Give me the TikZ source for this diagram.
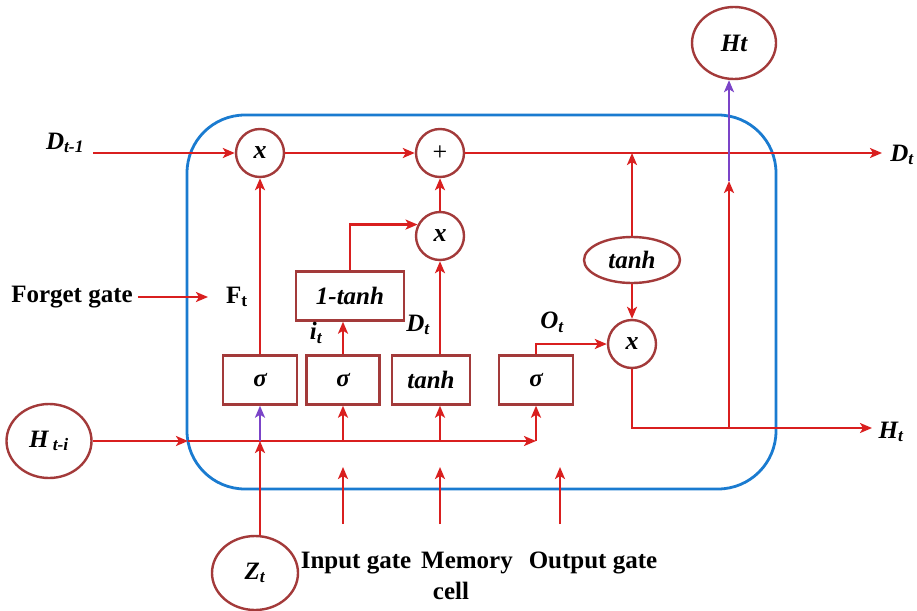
\documentclass[tikz,border=0pt]{standalone}
\usepackage{fontspec}
\setmainfont{Liberation Serif}
\usetikzlibrary{arrows.meta,shapes.geometric,calc}
\definecolor{arrred}{HTML}{D91F1F}
\definecolor{nodered}{HTML}{A33A3A}
\definecolor{cellblue}{HTML}{1A7BD0}
\definecolor{arrpurple}{HTML}{7B44C8}
\begin{document}
\begin{tikzpicture}[x=1pt,y=-1pt,
  lbl/.style={font=\fontsize{25}{30}\selectfont\bfseries\itshape, inner sep=0pt},
  txt/.style={font=\fontsize{25}{30}\selectfont\bfseries, inner sep=0pt},
  circ/.style={circle, draw=nodered, line width=2.4pt, minimum size=48pt, inner sep=0pt, fill=white, font=\fontsize{26}{30}\selectfont\bfseries\itshape},
  ell/.style={ellipse, draw=nodered, line width=2.4pt, inner sep=0pt, fill=white, font=\fontsize{25}{30}\selectfont\bfseries\itshape},
  gbox/.style={rectangle, draw=nodered, line width=2.4pt, minimum height=49pt, inner sep=0pt, fill=white, font=\fontsize{25}{30}\selectfont\bfseries\itshape},
  arr/.style={draw=arrred, line width=2.3pt, -{Stealth[length=12pt,width=10pt,inset=3pt]}},
  parr/.style={draw=arrpurple, line width=2.3pt, -{Stealth[length=12pt,width=10pt,inset=3pt]}},
  cell/.style={draw=cellblue, line width=2.8pt, rounded corners=58pt}
]
\useasboundingbox (0,0) rectangle (917,610);

% cell outline
\draw[cell] (187,115) rectangle (776,489);

% operator circles
\node[circ] (m1) at (260,153) {x};
\node[circ, font=\fontsize{26}{30}\selectfont] (plus) at (440,153) {+};
\node[circ] (m2) at (440,236) {x};
\node[circ] (m3) at (632,344) {x};

% ellipses
\node[ell, minimum width=96pt, minimum height=46pt] (tanhE) at (632,260) {tanh};
\node[ell, minimum width=84pt, minimum height=72pt] (HtE) at (734,43) {Ht};
\node[ell, minimum width=85pt, minimum height=74pt] (Hti) at (49,441) {H\,\textsubscript{t-i}};
\node[ell, minimum width=86pt, minimum height=74pt] (Zt) at (255,573) {Z\textsubscript{t}};

% gate boxes
\node[gbox, minimum width=74pt] (b1) at (260,380) {σ};
\node[gbox, minimum width=73pt] (b2) at (343,380) {σ};
\node[gbox, minimum width=78pt] (b3) at (431,380) {tanh};
\node[gbox, minimum width=74pt] (b4) at (536,380) {σ};
\node[gbox, minimum width=108pt] (b5) at (350,296) {1-tanh};

% labels
\node[lbl] (ldtm) at (65,143) {D\textsubscript{t-1}};
\node[lbl] (ldt) at (902,155) {D\textsubscript{t}};
\node[lbl] (lht) at (891,432) {H\textsubscript{t}};
\node[txt] (lfg) at (72,297) {Forget gate};
\node[txt] (lft) at (237,297) {F\textsubscript{t}};
\node[lbl] (lit) at (316,333) {i\textsubscript{t}};
\node[lbl] (ldd) at (418,325) {D\textsubscript{t}};
\node[lbl] (lot) at (552,322) {O\textsubscript{t}};
\node[txt] (lin) at (356,563) {Input gate};
\node[txt] (lmem) at (467,563) {Memory};
\node[txt] (lcell) at (451,591) {cell};
\node[txt] (lout) at (593,563) {Output gate};

% coordinates
\coordinate (dstart) at (93,153);
\coordinate (dend) at (882,153);
\coordinate (hend) at (872,428);
\coordinate (hmid) at (188,441);
\coordinate (hcorner) at (536,441);
\coordinate (zcross) at (260,441);
\coordinate (htap) at (729,428);
\coordinate (htarr) at (729,181);
\coordinate (u1s) at (343,524);
\coordinate (u1e) at (343,467);
\coordinate (u2s) at (440,524);
\coordinate (u2e) at (440,467);
\coordinate (u3s) at (560,524);
\coordinate (u3e) at (560,467);
\coordinate (fgend) at (208,297);

% top cell-state line
\draw[arr] (dstart) -- (m1.west);
\draw[arr] (m1.east) -- (plus.west);
\draw[arr] (plus.east) -- (dend);
\draw[arr] (b1.north) -- (m1.south);
\draw[arr] (m2.north) -- (plus.south);
\draw[arr] (b3.north -| m2.south) -- (m2.south);
\draw[arr] (b2.north) -- (b2.north |- b5.south);
\draw[arr] (b5.north) |- (m2.153);

% forget gate
\draw[arr] (lfg.east) ++(5,0) -- (fgend);

% hidden input line
\draw[arr] (Hti.east) -- (hmid);
\draw[arr] (hmid) -- (hcorner);
\draw[arr] (hcorner) -- (b4.south);
\draw[arr] (b2.south |- hcorner) -- (b2.south);
\draw[arr] (u2e |- hcorner) -- (b3.south -| u2e);

% Z input
\draw[arr] (b1.south |- Zt.north) -- (zcross);
\draw[parr] (zcross) -- (b1.south);

% bottom gate arrows
\draw[arr] (u1s) -- (u1e);
\draw[arr] (u2s) -- (u2e);
\draw[arr] (u3s) -- (u3e);

% output part
\draw[arr] (b4.north) |- (m3.west);
\draw[arr] (tanhE.south) -- (m3.north);
\draw[arr] (tanhE.north) -- (tanhE.north |- dend);
\draw[arr] (m3.south) |- (hend);
\draw[arr] (htap) -- (htarr);
\draw[parr] (htarr) -- (htarr |- HtE.south);
\end{tikzpicture}
\end{document}
